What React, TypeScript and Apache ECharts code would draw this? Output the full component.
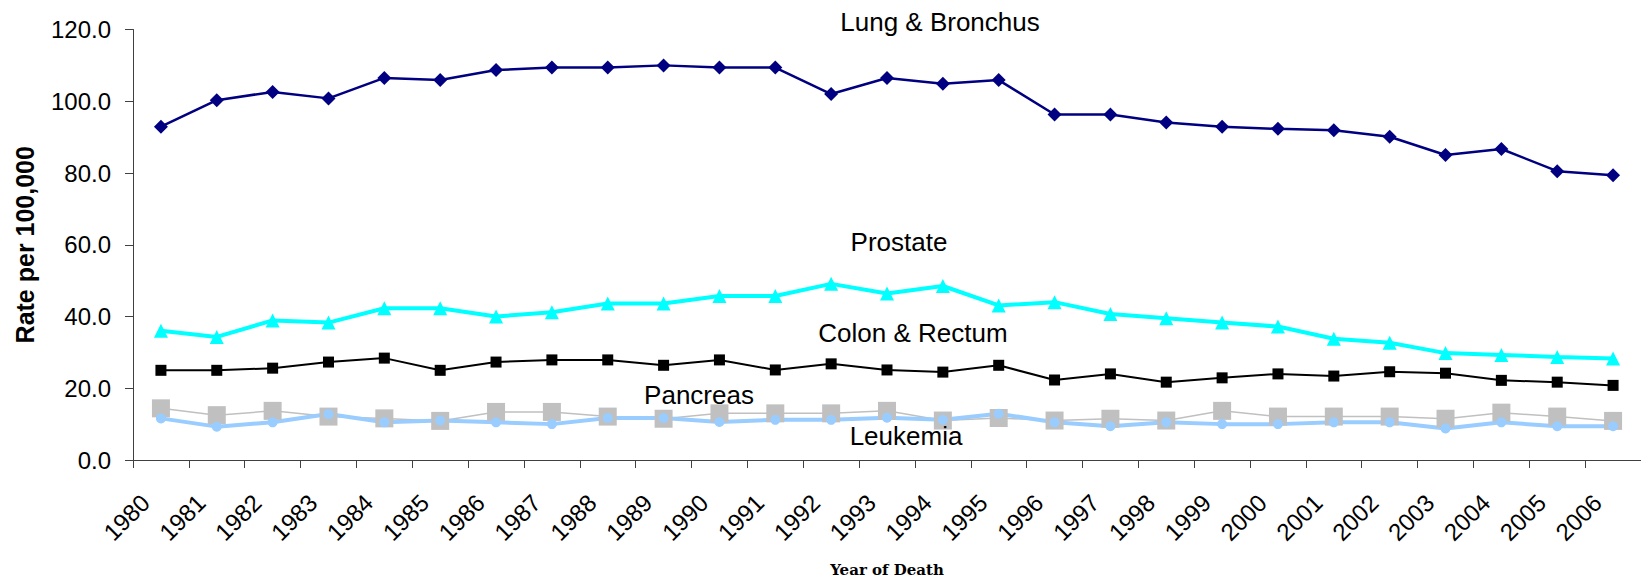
import React, { useEffect, useRef } from "react";
import * as echarts from "echarts";

const years = [
  "1980", "1981", "1982", "1983", "1984", "1985", "1986", "1987", "1988", "1989",
  "1990", "1991", "1992", "1993", "1994", "1995", "1996", "1997", "1998", "1999",
  "2000", "2001", "2002", "2003", "2004", "2005", "2006",
];

const lungBronchus = [
  92.9, 100.3, 102.6, 100.8, 106.5, 105.9, 108.7, 109.4, 109.4, 110.0,
  109.4, 109.4, 102.0, 106.5, 104.9, 105.9, 96.3, 96.3, 94.1, 92.9,
  92.3, 91.9, 90.1, 85.0, 86.7, 80.5, 79.4,
];

const prostate = [
  36.0, 34.3, 38.9, 38.3, 42.3, 42.3, 40.0, 41.2, 43.6, 43.6,
  45.7, 45.7, 49.1, 46.4, 48.5, 43.1, 44.0, 40.7, 39.5, 38.3,
  37.2, 33.8, 32.7, 29.8, 29.3, 28.7, 28.3,
];

const colonRectum = [
  25.0, 25.0, 25.6, 27.3, 28.4, 25.0, 27.3, 27.9, 27.9, 26.4,
  27.9, 25.1, 26.8, 25.1, 24.5, 26.4, 22.3, 24.0, 21.7, 22.9,
  24.0, 23.4, 24.6, 24.2, 22.2, 21.7, 20.8,
];

const pancreas = [
  14.4, 12.5, 13.7, 12.1, 11.6, 10.9, 13.4, 13.4, 12.1, 11.5,
  13.0, 13.0, 13.0, 13.7, 11.0, 11.7, 11.0, 11.5, 11.0, 13.7,
  12.1, 12.1, 12.1, 11.5, 13.2, 12.1, 10.9,
];

const leukemia = [
  11.6, 9.3, 10.5, 12.8, 10.5, 11.0, 10.5, 10.0, 11.7, 11.7,
  10.6, 11.2, 11.2, 11.8, 11.2, 12.9, 10.5, 9.4, 10.5, 10.0,
  10.0, 10.5, 10.5, 8.8, 10.5, 9.4, 9.4,
];

const seriesLabels = [
  { text: "Lung & Bronchus", x: 940, y: 22 },
  { text: "Prostate", x: 899, y: 242 },
  { text: "Colon & Rectum", x: 913, y: 333 },
  { text: "Pancreas", x: 699, y: 395 },
  { text: "Leukemia", x: 906, y: 436 },
];

const SANS = '"Liberation Sans", Arial, Helvetica, sans-serif';

export default function App() {
  const ref = useRef<HTMLDivElement>(null);

  useEffect(() => {
    if (!ref.current) return;
    const chart = echarts.init(ref.current, undefined, { renderer: "svg" });

    const option = {
      animation: false,
      backgroundColor: "#ffffff",
      grid: { left: 133, top: 29.5, width: 1517, height: 432.5, containLabel: false },
      xAxis: {
        type: "category",
        data: years,
        boundaryGap: true,
        name: "Year of Death",
        nameLocation: "middle",
        nameGap: 102,
        nameTextStyle: {
          fontFamily: '"DejaVu Serif", "Liberation Serif", serif',
          fontWeight: "bold",
          fontSize: 15,
          color: "#000",
        },
        axisLine: { show: true, lineStyle: { color: "#404040", width: 1 } },
        axisTick: { show: true, length: 8, lineStyle: { color: "#404040" }, alignWithLabel: false },
        axisLabel: {
          interval: 0,
          rotate: 45,
          margin: 23,
          padding: [0, 22, 0, 0],
          fontFamily: SANS,
          fontSize: 24,
          color: "#000",
        },
        splitLine: { show: false },
      },
      yAxis: {
        type: "value",
        min: 0,
        max: 120,
        interval: 20,
        name: "Rate per 100,000",
        nameLocation: "middle",
        nameGap: 96,
        nameTextStyle: {
          fontFamily: SANS,
          fontWeight: "bold",
          fontSize: 25,
          color: "#000",
        },
        axisLine: { show: true, lineStyle: { color: "#404040", width: 1 } },
        axisTick: { show: true, length: 8, lineStyle: { color: "#404040" } },
        axisLabel: {
          margin: 22,
          fontFamily: SANS,
          fontSize: 24,
          color: "#000",
          formatter: (v: number) => v.toFixed(1),
        },
        splitLine: { show: false },
      },
      series: [
        {
          name: "Lung & Bronchus",
          type: "line",
          data: lungBronchus,
          symbol: "diamond",
          symbolSize: 14,
          lineStyle: { color: "#000080", width: 2.5 },
          itemStyle: { color: "#000080" },
        },
        {
          name: "Prostate",
          type: "line",
          data: prostate,
          symbol: "triangle",
          symbolSize: 14,
          lineStyle: { color: "#00FFFF", width: 4 },
          itemStyle: { color: "#00FFFF" },
        },
        {
          name: "Colon & Rectum",
          type: "line",
          data: colonRectum,
          symbol: "rect",
          symbolSize: 11,
          lineStyle: { color: "#000000", width: 2 },
          itemStyle: { color: "#000000" },
        },
        {
          name: "Pancreas",
          type: "line",
          data: pancreas,
          symbol: "rect",
          symbolSize: 18,
          lineStyle: { color: "#C0C0C0", width: 1.5 },
          itemStyle: { color: "#C0C0C0" },
        },
        {
          name: "Leukemia",
          type: "line",
          data: leukemia,
          symbol: "circle",
          symbolSize: 10,
          lineStyle: { color: "#99CCFF", width: 4 },
          itemStyle: { color: "#99CCFF" },
        },
      ],
      graphic: seriesLabels.map((l) => ({
        type: "text",
        x: l.x,
        y: l.y,
        z: 100,
        style: {
          text: l.text,
          fontFamily: SANS,
          fontSize: 26,
          fill: "#000",
          align: "center",
          verticalAlign: "middle",
        },
      })),
    };

    chart.setOption(option as any);
    return () => chart.dispose();
  }, []);

  return (
    <div
      ref={ref}
      style={{ position: "fixed", left: 0, top: 0, width: 1641, height: 582, background: "#fff" }}
    />
  );
}
